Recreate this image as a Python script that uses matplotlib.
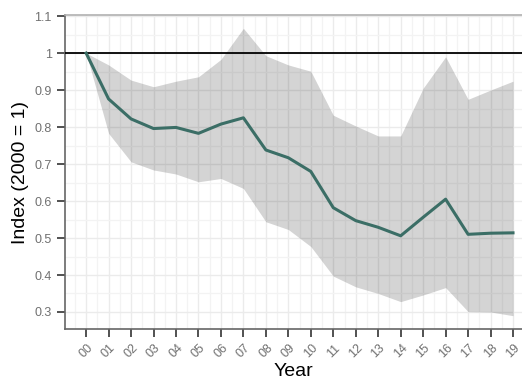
import matplotlib.pyplot as plt
from matplotlib.ticker import MultipleLocator

plt.rcParams['font.family'] = ['Liberation Sans', 'DejaVu Sans']

years = list(range(0, 20))
year_labels = ['%02d' % y for y in years]

mean_index = [1.0, 0.876, 0.822, 0.796, 0.799, 0.783, 0.808, 0.825, 0.738, 0.717,
              0.680, 0.582, 0.547, 0.529, 0.506, 0.556, 0.605, 0.510, 0.513, 0.514]
upper = [1.0, 0.968, 0.927, 0.909, 0.924, 0.936, 0.983, 1.067, 0.993, 0.968,
         0.951, 0.832, 0.803, 0.776, 0.776, 0.905, 0.990, 0.875, 0.900, 0.924]
lower = [1.0, 0.783, 0.706, 0.684, 0.673, 0.652, 0.661, 0.634, 0.544, 0.523,
         0.477, 0.397, 0.368, 0.350, 0.328, 0.346, 0.366, 0.301, 0.300, 0.290]

fig = plt.figure(figsize=(5.22, 3.79), dpi=100)
ax = fig.add_axes([65/522, 50/379, 1 - 65/522, 314/379])

ax.fill_between(years, lower, upper, color='black', alpha=0.17, linewidth=0, zorder=2)
ax.axhline(1.0, color='black', linewidth=1.3, zorder=3)
ax.plot(years, mean_index, color='#3b6e66', linewidth=2.2, zorder=4)

ax.set_xlim(-0.94, 19.4)
ax.set_ylim(0.254, 1.103)

ax.set_xticks(years)
ax.set_xticklabels(year_labels, rotation=45, fontsize=9, color='#707070')
ax.xaxis.set_minor_locator(MultipleLocator(0.5))
ax.yaxis.set_minor_locator(MultipleLocator(0.05))
ax.set_yticks([0.3, 0.4, 0.5, 0.6, 0.7, 0.8, 0.9, 1.0, 1.1])
ax.set_yticklabels(['0.3', '0.4', '0.5', '0.6', '0.7', '0.8', '0.9', '1', '1.1'],
                   fontsize=9, color='#707070')

ax.grid(which='major', color='#ebebeb', linewidth=1.0, zorder=0)
ax.grid(which='minor', color='#f3f3f3', linewidth=0.9, zorder=0)
ax.set_axisbelow(True)

ax.tick_params(which='major', length=5.5, width=1.2, color='#333333')
ax.tick_params(which='minor', length=0)
ax.tick_params(axis='x', pad=4)
ax.tick_params(axis='y', pad=4)

for side in ['left', 'bottom']:
    ax.spines[side].set_color('#666666')
    ax.spines[side].set_linewidth(1.2)
ax.spines['top'].set_color('#b0b0b0')
ax.spines['top'].set_linewidth(1.2)
ax.spines['right'].set_visible(False)

ax.set_xlabel('Year', fontsize=14, labelpad=2)
ax.set_ylabel('Index (2000 = 1)', fontsize=14, labelpad=4)

plt.savefig('out.png', dpi=100)
